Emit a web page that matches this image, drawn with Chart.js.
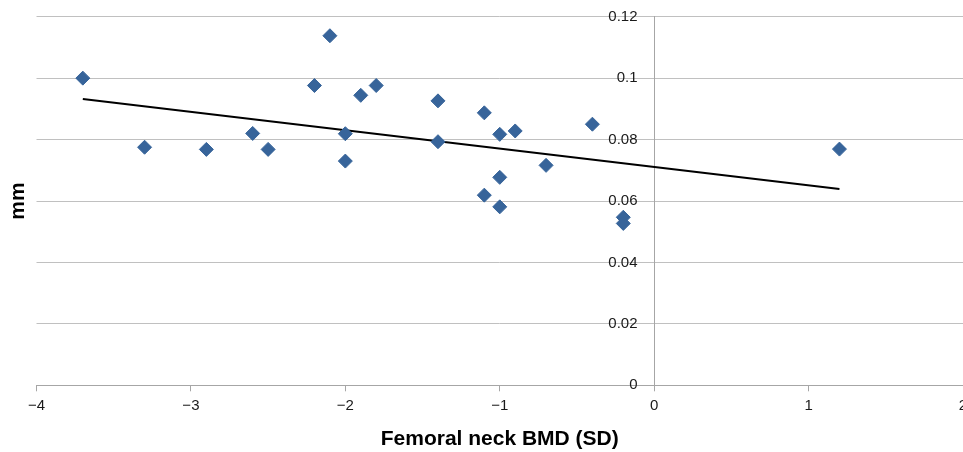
<!DOCTYPE html>
<html lang="en">
<head>
    <meta charset="UTF-8">
    <title>Femoral neck BMD vs mm</title>
    <script src="https://cdn.jsdelivr.net/npm/chart.js"></script>
    <style>
        html, body { margin: 0; padding: 0; background: #fff; overflow: hidden; }
        #wrap { position: relative; width: 980px; height: 452px; }
    </style>
</head>
<body>
    <div id="wrap">
        <canvas id="bmdChart"></canvas>
    </div>

    <script>
// valeurs
const bmdX = [-3.7, -3.3, -2.9, -2.6, -2.5, -2.2, -2.1, -2.0, -2.0, -1.9, -1.8, -1.4,
              -1.4, -1.1, -1.0, -0.9, -0.4, -0.7, -1.0, -1.1, -1.0, -0.2, -0.2, 1.2];
const mmY = [0.1000, 0.0775, 0.0768, 0.0820, 0.0768, 0.0976, 0.1138, 0.0819, 0.0730, 0.0944, 0.0976, 0.0926,
             0.0793, 0.0887, 0.0817, 0.0828, 0.0850, 0.0716, 0.0677, 0.0619, 0.0581, 0.0547, 0.0527, 0.0769];

// droite de tendance (extrémités)
const trendX = [-3.7, 1.2];
const trendY = [0.0932, 0.0639];

const xTickLabels = ['\u22124', '\u22123', '\u22122', '\u22121', '0', '1', '2'];
const yTickLabels = ['0', '0.02', '0.04', '0.06', '0.08', '0.1', '0.12'];

const xTitle = 'Femoral neck BMD (SD)';
const yTitle = 'mm';

const points = bmdX.map((x, i) => ({ x: x, y: mmY[i] }));
const trend = trendX.map((x, i) => ({ x: x, y: trendY[i] }));

// écart entre les étiquettes et l'axe vertical (l'axe centré ignore ticks.padding)
const yLabelGap = '    ';

// titre vertical "mm" à gauche
const yTitlePlugin = {
    id: 'yTitle',
    afterDraw(chart) {
        const ctx = chart.ctx;
        const area = chart.chartArea;
        ctx.save();
        ctx.translate(18, (area.top + area.bottom) / 2);
        ctx.rotate(-Math.PI / 2);
        ctx.font = 'bold 21px "Liberation Sans", Arial, sans-serif';
        ctx.fillStyle = '#000';
        ctx.textAlign = 'center';
        ctx.textBaseline = 'middle';
        ctx.fillText(yTitle, 0, 0);
        ctx.restore();
    }
};

const ctx = document.getElementById('bmdChart').getContext('2d');
const bmdChart = new Chart(ctx, {
    type: 'scatter',
    data: {
        datasets: [
            {
                label: 'mm',
                data: points,
                pointStyle: 'rectRot',
                pointRadius: 7,
                pointHoverRadius: 7,
                backgroundColor: '#37649a',
                borderColor: '#37649a',
                borderWidth: 1
            },
            {
                label: 'Trend',
                data: trend,
                showLine: true,
                pointRadius: 0,
                borderColor: '#000',
                borderWidth: 2
            }
        ]
    },
    options: {
        responsive: true,
        maintainAspectRatio: false,
        animation: false,
        events: [],
        layout: { padding: { left: 36.5, right: 17, top: 16.7, bottom: 0.4 } },
        plugins: {
            legend: { display: false },
            tooltip: { enabled: false }
        },
        scales: {
            x: {
                type: 'linear',
                position: 'bottom',
                min: -4,
                max: 2,
                ticks: {
                    stepSize: 1,
                    padding: 5.7,
                    color: '#1a1a1a',
                    font: { family: '"Liberation Sans", Arial, sans-serif', size: 15 },
                    callback: (v, i) => xTickLabels[i]
                },
                grid: {
                    drawOnChartArea: false,
                    drawTicks: true,
                    tickLength: 6,
                    tickColor: '#a6a6a6'
                },
                border: { display: true, color: '#a6a6a6', width: 1 },
                title: {
                    display: true,
                    text: xTitle,
                    color: '#000',
                    font: { family: '"Liberation Sans", Arial, sans-serif', size: 21, weight: 'bold' },
                    padding: { top: 5.7, bottom: 0 }
                }
            },
            y: {
                type: 'linear',
                position: { x: 0 },
                min: 0,
                max: 0.12,
                ticks: {
                    stepSize: 0.02,
                    padding: 0,
                    color: '#1a1a1a',
                    font: { family: '"Liberation Sans", Arial, sans-serif', size: 15 },
                    callback: (v, i) => yTickLabels[i] + yLabelGap
                },
                grid: {
                    color: '#c0c0c0',
                    lineWidth: 1,
                    drawTicks: false
                },
                border: { display: true, color: '#a6a6a6', width: 1 }
            }
        }
    },
    plugins: [yTitlePlugin]
});
    </script>
</body>
</html>
